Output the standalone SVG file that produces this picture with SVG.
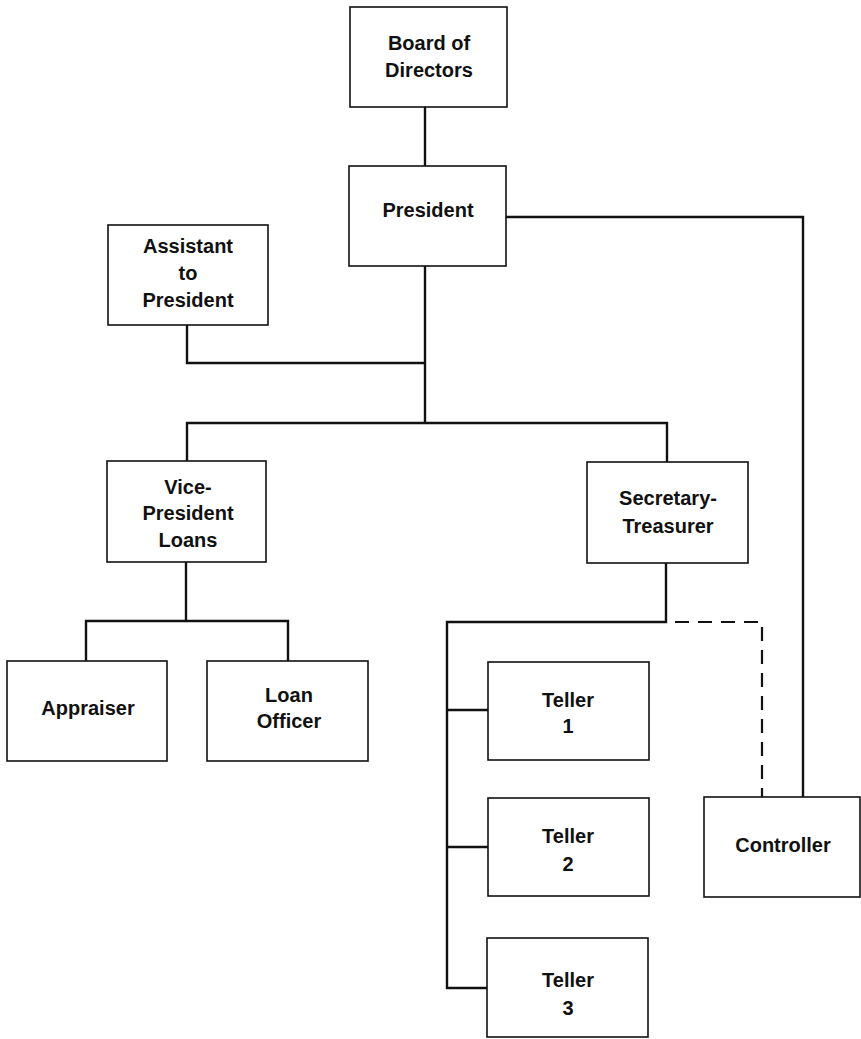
<svg xmlns="http://www.w3.org/2000/svg" width="861" height="1039" viewBox="0 0 861 1039">
<style>
.box{fill:#fff;stroke:#111;stroke-width:1.6}
.t{font-family:"Liberation Sans",Arial,sans-serif;font-weight:bold;font-size:20px;fill:#111;text-anchor:middle}
.ln{fill:none;stroke:#111;stroke-width:2.4}
.dash{fill:none;stroke:#111;stroke-width:2.2;stroke-dasharray:14 9}
</style>
<rect width="861" height="1039" fill="#fff"/>
<g id="connectors">
<path class="ln" d="M425,107V166"/>
<path class="ln" d="M425,266V423"/>
<path class="ln" d="M187,325V363H425"/>
<path class="ln" d="M506,217H803V797"/>
<path class="ln" d="M187,461V423H667V462"/>
<path class="ln" d="M186,562V621"/>
<path class="ln" d="M86,661V621H288V661"/>
<path class="ln" d="M666,563V622H447V988H488"/>
<path class="ln" d="M447,710H488"/>
<path class="ln" d="M447,847H488"/>
<path class="dash" d="M675,622H762V797"/>
</g>
<g id="board"><rect class="box" x="350" y="7" width="157" height="100"/><text class="t" x="429" y="50">Board of</text><text class="t" x="429" y="77">Directors</text></g>
<g id="president"><rect class="box" x="349" y="166" width="157" height="100"/><text class="t" x="428" y="217">President</text></g>
<g id="assistant"><rect class="box" x="108" y="225" width="160" height="100"/><text class="t" x="188" y="253">Assistant</text><text class="t" x="188" y="280">to</text><text class="t" x="188" y="307">President</text></g>
<g id="vp"><rect class="box" x="107" y="461" width="159" height="101"/><text class="t" x="188" y="494">Vice-</text><text class="t" x="188" y="520">President</text><text class="t" x="188" y="547">Loans</text></g>
<g id="sectreas"><rect class="box" x="587" y="462" width="161" height="101"/><text class="t" x="668" y="505">Secretary-</text><text class="t" x="668" y="533">Treasurer</text></g>
<g id="appraiser"><rect class="box" x="7" y="661" width="160" height="100"/><text class="t" x="88" y="715">Appraiser</text></g>
<g id="loanofficer"><rect class="box" x="207" y="661" width="161" height="100"/><text class="t" x="289" y="702">Loan</text><text class="t" x="289" y="728">Officer</text></g>
<g id="teller1"><rect class="box" x="488" y="662" width="161" height="98"/><text class="t" x="568" y="707">Teller</text><text class="t" x="568" y="733">1</text></g>
<g id="teller2"><rect class="box" x="488" y="798" width="161" height="98"/><text class="t" x="568" y="843">Teller</text><text class="t" x="568" y="871">2</text></g>
<g id="teller3"><rect class="box" x="487" y="938" width="161" height="99"/><text class="t" x="568" y="987">Teller</text><text class="t" x="568" y="1015">3</text></g>
<g id="controller"><rect class="box" x="704" y="797" width="156" height="100"/><text class="t" x="783" y="852">Controller</text></g>
</svg>
